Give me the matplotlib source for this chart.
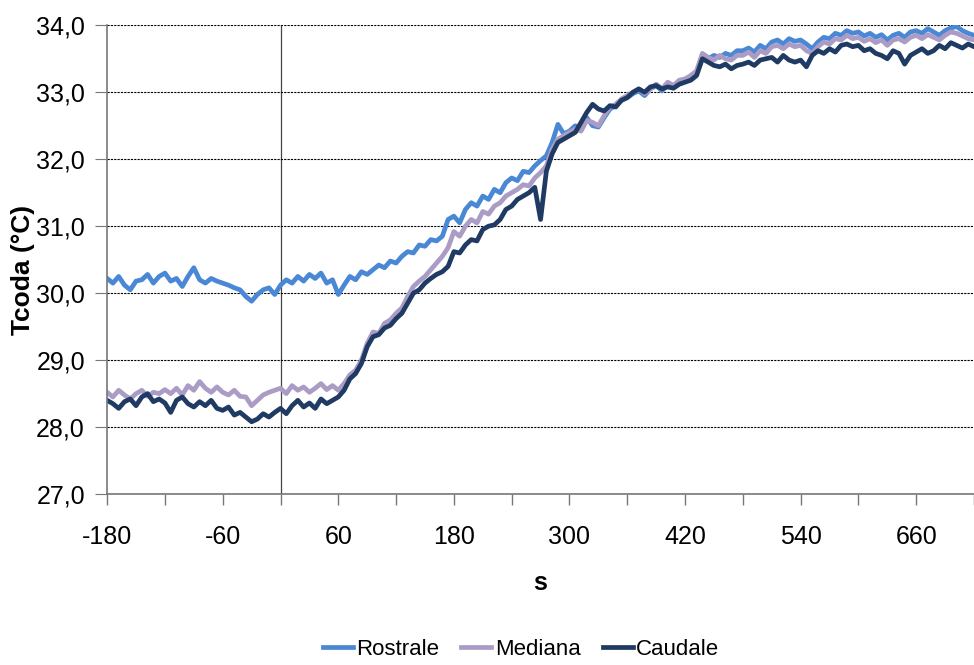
import numpy as np
import matplotlib
matplotlib.use("Agg")
import matplotlib.pyplot as plt
from matplotlib.ticker import FuncFormatter

plt.rcParams['font.family'] = ['Liberation Sans', 'DejaVu Sans']

# time axis (s), one reading every 6 s
t = np.arange(-180, 721, 6)

rostrale = [
    30.22, 30.15, 30.25, 30.12, 30.05, 30.18, 30.20, 30.28, 30.15, 30.25,
    30.30, 30.18, 30.22, 30.10, 30.25, 30.38, 30.20, 30.15, 30.22, 30.18,
    30.15, 30.12, 30.08, 30.05, 29.95, 29.88, 29.98, 30.05, 30.08, 29.98,
    30.12, 30.20, 30.15, 30.25, 30.18, 30.28, 30.22, 30.30, 30.15, 30.20,
    29.98, 30.12, 30.25, 30.20, 30.32, 30.28, 30.35, 30.42, 30.38, 30.48,
    30.45, 30.55, 30.62, 30.60, 30.72, 30.70, 30.80, 30.78, 30.85, 31.10,
    31.15, 31.05, 31.25, 31.35, 31.30, 31.45, 31.40, 31.55, 31.50, 31.65,
    31.72, 31.68, 31.82, 31.80, 31.90, 31.98, 32.05, 32.25, 32.52, 32.38,
    32.42, 32.50, 32.45, 32.62, 32.50, 32.48, 32.62, 32.75, 32.80, 32.88,
    32.92, 32.98, 33.02, 32.95, 33.05, 33.10, 33.02, 33.12, 33.08, 33.15,
    33.18, 33.22, 33.30, 33.55, 33.50, 33.55, 33.52, 33.58, 33.55, 33.62,
    33.62, 33.66, 33.60, 33.70, 33.65, 33.75, 33.78, 33.72, 33.80, 33.76,
    33.78, 33.72, 33.65, 33.75, 33.82, 33.80, 33.88, 33.85, 33.92, 33.88,
    33.90, 33.84, 33.88, 33.82, 33.86, 33.78, 33.85, 33.88, 33.82, 33.90,
    33.92, 33.88, 33.95, 33.90, 33.85, 33.92, 33.96, 33.98, 33.92, 33.88,
    33.85,
]

mediana = [
    28.52, 28.45, 28.55, 28.48, 28.42, 28.50, 28.55, 28.46, 28.52, 28.50,
    28.56, 28.50, 28.58, 28.48, 28.62, 28.55, 28.68, 28.58, 28.52, 28.60,
    28.52, 28.48, 28.55, 28.46, 28.45, 28.32, 28.40, 28.48, 28.52, 28.55,
    28.58, 28.50, 28.62, 28.55, 28.60, 28.52, 28.58, 28.65, 28.56, 28.62,
    28.55, 28.65, 28.78, 28.85, 29.00, 29.25, 29.42, 29.40, 29.55, 29.60,
    29.70, 29.78, 29.95, 30.10, 30.18, 30.25, 30.35, 30.45, 30.55, 30.68,
    30.92, 30.85, 31.00, 31.10, 31.05, 31.22, 31.18, 31.30, 31.35, 31.45,
    31.50, 31.55, 31.62, 31.60, 31.72, 31.80, 31.90, 32.15, 32.30, 32.35,
    32.40, 32.45, 32.42, 32.58, 32.55, 32.50, 32.65, 32.78, 32.82, 32.90,
    32.95, 33.00, 33.05, 32.98, 33.05, 33.12, 33.05, 33.15, 33.10, 33.18,
    33.20, 33.25, 33.32, 33.58, 33.52, 33.48, 33.55, 33.50, 33.48, 33.55,
    33.55, 33.60, 33.52, 33.62, 33.58, 33.68, 33.70, 33.65, 33.72, 33.68,
    33.70, 33.62, 33.58, 33.68, 33.75, 33.72, 33.80, 33.78, 33.85, 33.80,
    33.82, 33.76, 33.80, 33.74, 33.78, 33.70, 33.78, 33.80, 33.75, 33.82,
    33.85, 33.80, 33.86, 33.82, 33.78, 33.85, 33.90, 33.88, 33.84, 33.80,
    33.78,
]

caudale = [
    28.40, 28.35, 28.28, 28.38, 28.42, 28.32, 28.45, 28.50, 28.38, 28.42,
    28.36, 28.22, 28.40, 28.45, 28.35, 28.30, 28.38, 28.32, 28.40, 28.28,
    28.25, 28.30, 28.18, 28.22, 28.15, 28.08, 28.12, 28.20, 28.15, 28.22,
    28.28, 28.20, 28.32, 28.40, 28.30, 28.36, 28.28, 28.42, 28.35, 28.40,
    28.45, 28.55, 28.72, 28.80, 28.95, 29.20, 29.35, 29.38, 29.48, 29.52,
    29.62, 29.70, 29.85, 30.00, 30.05, 30.15, 30.22, 30.28, 30.32, 30.40,
    30.62, 30.60, 30.72, 30.80, 30.78, 30.95, 31.00, 31.02, 31.10, 31.25,
    31.30, 31.40, 31.45, 31.50, 31.58, 31.10, 31.82, 32.08, 32.25, 32.30,
    32.35, 32.40, 32.55, 32.70, 32.82, 32.75, 32.72, 32.80, 32.78, 32.88,
    32.92, 33.00, 33.05, 33.00, 33.08, 33.10, 33.05, 33.08, 33.06, 33.12,
    33.15, 33.18, 33.25, 33.50, 33.45, 33.40, 33.38, 33.42, 33.35, 33.40,
    33.42, 33.45, 33.40, 33.48, 33.50, 33.52, 33.45, 33.55, 33.48, 33.45,
    33.48, 33.38, 33.55, 33.62, 33.58, 33.65, 33.60, 33.70, 33.72, 33.68,
    33.70, 33.62, 33.65, 33.58, 33.55, 33.50, 33.62, 33.58, 33.42, 33.55,
    33.60, 33.65, 33.58, 33.62, 33.70, 33.65, 33.74, 33.70, 33.66, 33.72,
    33.68,
]

series_names = ["Rostrale", "Mediana", "Caudale"]
series_colors = ["#4a88d6", "#ab9cc6", "#1f3a63"]

fig = plt.figure(figsize=(9.74, 6.65), dpi=100)
ax = fig.add_axes([0.110, 0.257, 0.890, 0.705])

for vals, name, col in zip([rostrale, mediana, caudale], series_names, series_colors):
    ax.plot(t, vals, color=col, lw=3.4, label=name, solid_joinstyle='round')

ax.set_xlim(-180, 720)
ax.set_ylim(27, 34)

# y grid dashed, vertical marker at t = 0
ax.set_yticks(np.arange(27, 34.1, 1))
ax.yaxis.grid(True, color='black', lw=0.8, linestyle=(0, (2, 1)))
ax.set_axisbelow(True)
ax.axvline(0, color='#444444', lw=0.9, zorder=0)

xt = np.arange(-180, 721, 60)
ax.set_xticks(xt)
ax.set_xticklabels([str(v) if (v + 180) % 120 == 0 else "" for v in xt])
ax.yaxis.set_major_formatter(FuncFormatter(lambda v, p: f"{v:.1f}".replace(".", ",")))

ax.tick_params(axis='both', labelsize=18, colors='#777777', labelcolor='black',
               width=1, direction='out')
ax.tick_params(axis='x', length=8, pad=14)
ax.tick_params(axis='y', length=9, width=0.8, pad=7)

for side in ['top', 'right']:
    ax.spines[side].set_visible(False)
for side in ['left', 'bottom']:
    ax.spines[side].set_color('#777777')
    ax.spines[side].set_linewidth(1.2)

ax.set_xlabel("s", fontsize=18, fontweight='bold')
ax.xaxis.set_label_coords(0.5, -0.165)
ax.set_ylabel("Tcoda (°C)", fontsize=19, fontweight='bold')
ax.yaxis.set_label_coords(-0.083, 0.478)

fig.legend(loc='center', bbox_to_anchor=(0.535, 0.024), ncol=3, frameon=False,
           fontsize=16, handlelength=1.35, handletextpad=0.15, columnspacing=1.0)

fig.savefig("out.png", dpi=100)
